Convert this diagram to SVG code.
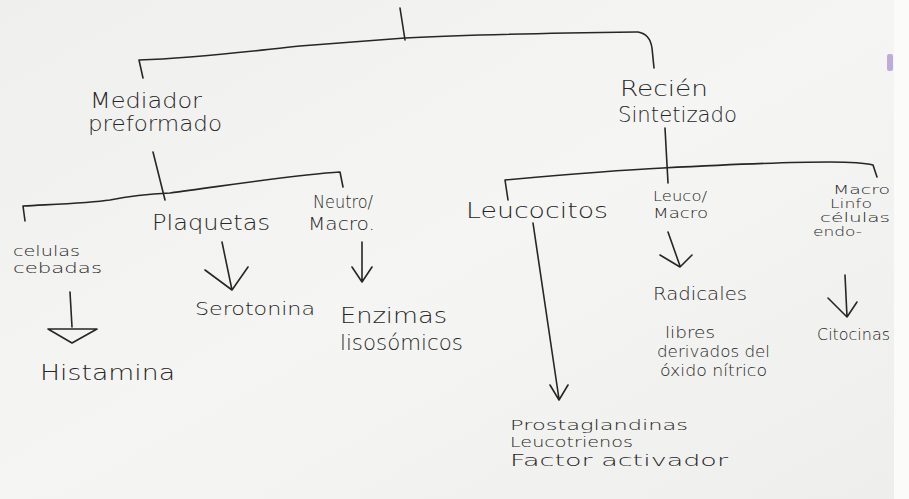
<svg xmlns="http://www.w3.org/2000/svg" width="909" height="499" viewBox="0 0 909 499">
<style>
.t{font-family:"DejaVu Sans","Liberation Sans",sans-serif;font-weight:200;font-size:21px;fill:#262626}
.m{font-size:18px}
.n{font-size:16px}
.s{font-size:14px}
.xs{font-size:12px}
.c{fill:none;stroke:#262626;stroke-width:1.6;stroke-linecap:round;stroke-linejoin:round}
</style>
<defs>
<linearGradient id="bg" x1="0" y1="0" x2="1" y2="1">
<stop offset="0" stop-color="#efefed"/>
<stop offset="0.5" stop-color="#f5f5f3"/>
<stop offset="1" stop-color="#eeeeec"/>
</linearGradient>
</defs>
<rect x="0" y="0" width="909" height="499" fill="url(#bg)"/>
<rect x="894" y="0" width="15" height="499" fill="#fbfbfa"/>
<rect x="887" y="54" width="6" height="17" rx="2" fill="#a58bd0" opacity="0.7"/>
<g id="connectors" class="c">
<path d="M400,8 L405,40"/>
<path d="M143,78 L139,60 C200,58 260,50 300,46 C350,42 380,40 405,38 C480,34 560,33 638,32 Q650,34 652,48 L654,68"/>
<path d="M153,152 L165,200"/>
<path d="M25,221 L23,206 C60,204 90,203 110,200 C130,196 150,194 170,193 C230,185 300,174 340,172 L343,187"/>
<path d="M222,242 L232,290 M205,270 L232,290 L248,267"/>
<path d="M70,292 L72,327 M48,329 L97,329 L72,343 Z"/>
<path d="M362,242 L362,282 M352,267 L362,282 L372,267"/>
<path d="M665,128 L668,183"/>
<path d="M508,200 L505,180 C560,175 620,170 663,168 C720,165 780,162 830,162 C850,162 865,163 873,165 L877,177"/>
<path d="M533,223 L559,399 M550,385 L559,400 L568,385"/>
<path d="M668,232 L680,266 M660,255 L680,267 L692,255"/>
<path d="M845,275 L847,317 M828,298 L847,317 L857,302"/>
</g>
<g id="mediador"><text class="t" x="90" y="108" textLength="112" lengthAdjust="spacingAndGlyphs">Mediador</text><text class="t" x="88" y="131" textLength="134" lengthAdjust="spacingAndGlyphs">preformado</text></g>
<g id="recien"><text class="t" x="620" y="96" textLength="88" lengthAdjust="spacingAndGlyphs">Recién</text><text class="t" x="618" y="122" textLength="119" lengthAdjust="spacingAndGlyphs">Sintetizado</text></g>
<g id="celulas"><text class="t s" x="13" y="256" textLength="67" lengthAdjust="spacingAndGlyphs">celulas</text><text class="t s" x="13" y="273" textLength="89" lengthAdjust="spacingAndGlyphs">cebadas</text></g>
<g id="plaquetas"><text class="t" x="152" y="230" textLength="118" lengthAdjust="spacingAndGlyphs">Plaquetas</text></g>
<g id="neutro"><text class="t m" x="313" y="208" textLength="60" lengthAdjust="spacingAndGlyphs">Neutro/</text><text class="t m" x="308" y="230" textLength="67" lengthAdjust="spacingAndGlyphs">Macro.</text></g>
<g id="histamina"><text class="t" x="40" y="380" textLength="135" lengthAdjust="spacingAndGlyphs">Histamina</text></g>
<g id="serotonina"><text class="t m" x="195" y="315" textLength="120" lengthAdjust="spacingAndGlyphs">Serotonina</text></g>
<g id="enzimas"><text class="t" x="340" y="323" textLength="107" lengthAdjust="spacingAndGlyphs">Enzimas</text><text class="t" x="340" y="350" textLength="123" lengthAdjust="spacingAndGlyphs">lisosómicos</text></g>
<g id="leucocitos"><text class="t" x="466" y="218" textLength="142" lengthAdjust="spacingAndGlyphs">Leucocitos</text></g>
<g id="leucomacro"><text class="t s" x="653" y="201" textLength="54" lengthAdjust="spacingAndGlyphs">Leuco/</text><text class="t s" x="653" y="218" textLength="55" lengthAdjust="spacingAndGlyphs">Macro</text></g>
<g id="radicales"><text class="t m" x="653" y="300" textLength="94" lengthAdjust="spacingAndGlyphs">Radicales</text><text class="t n" x="665" y="338" textLength="50" lengthAdjust="spacingAndGlyphs">libres</text><text class="t n" x="657" y="357" textLength="113" lengthAdjust="spacingAndGlyphs">derivados del</text><text class="t n" x="660" y="376" textLength="107" lengthAdjust="spacingAndGlyphs">óxido nítrico</text></g>
<g id="prostaglandinas"><text class="t s" x="510" y="430" textLength="178" lengthAdjust="spacingAndGlyphs">Prostaglandinas</text><text class="t s" x="510" y="447" textLength="123" lengthAdjust="spacingAndGlyphs">Leucotrienos</text><text class="t n" x="510" y="466" textLength="218" lengthAdjust="spacingAndGlyphs">Factor activador</text></g>
<g id="macrolinfo"><text class="t xs" x="833" y="194" textLength="57" lengthAdjust="spacingAndGlyphs">Macro</text><text class="t xs" x="830" y="208" textLength="42" lengthAdjust="spacingAndGlyphs">Linfo</text><text class="t xs" x="820" y="222" textLength="70" lengthAdjust="spacingAndGlyphs">células</text><text class="t xs" x="813" y="236" textLength="49" lengthAdjust="spacingAndGlyphs">endo-</text></g>
<g id="citocinas"><text class="t n" x="817" y="340" textLength="73" lengthAdjust="spacingAndGlyphs">Citocinas</text></g>
</svg>
